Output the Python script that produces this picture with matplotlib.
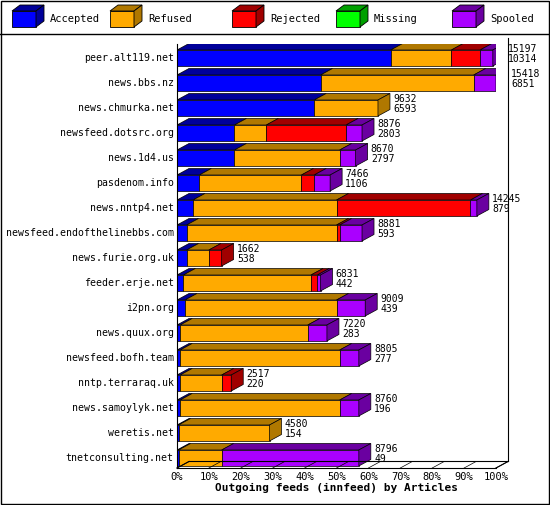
import matplotlib
matplotlib.use("Agg")
import matplotlib.pyplot as plt
from matplotlib.patches import Polygon, Rectangle
import numpy as np

hosts = ['peer.alt119.net', 'news.bbs.nz', 'news.chmurka.net', 'newsfeed.dotsrc.org',
         'news.1d4.us', 'pasdenom.info', 'news.nntp4.net', 'newsfeed.endofthelinebbs.com',
         'news.furie.org.uk', 'feeder.erje.net', 'i2pn.org', 'news.quux.org',
         'newsfeed.bofh.team', 'nntp.terraraq.uk', 'news.samoylyk.net', 'weretis.net',
         'tnetconsulting.net']
offered = [15197, 15418, 9632, 8876, 8670, 7466, 14245, 8881, 1662, 6831, 9009, 7220,
           8805, 2517, 8760, 4580, 8796]
accepted = [10314, 6851, 6593, 2803, 2797, 1106, 879, 593, 538, 442, 439, 283, 277, 220, 196, 154, 49]
# percent of offered
pct_accepted = [67, 45, 43, 18, 18, 7, 5, 3, 3, 2, 2.5, 1, 1, 1, 1, 0.5, 0.5]
pct_refused = [19, 48, 20, 10, 33, 32, 45, 47, 7, 40, 47.5, 40, 50, 13, 50, 28.5, 13.5]
pct_rejected = [9, 0, 0, 25, 0, 4, 42, 1, 4, 2, 0, 0, 0, 3, 0, 0, 0]
pct_missing = [0] * 17
pct_spooled = [4, 7, 0, 5, 5, 5, 2, 7, 0, 1, 9, 6, 6, 0, 6, 0, 43]

series = ['Accepted', 'Refused', 'Rejected', 'Missing', 'Spooled']
colors = ['#0000ff', '#ffaa00', '#ff0000', '#00ff00', '#aa00ff']
dark = ['#00009a', '#b07800', '#a00000', '#00a000', '#6a00a0']
values = [pct_accepted, pct_refused, pct_rejected, pct_missing, pct_spooled]

fig = plt.figure(figsize=(5.5, 5.05), dpi=100)
fig.patches.append(Rectangle((0.002, 0.002), 0.996, 0.996, transform=fig.transFigure,
                             fill=False, edgecolor='black', lw=1))
fig.add_artist(plt.Line2D([0, 1], [1 - 34 / 505, 1 - 34 / 505], color='black', lw=1))

# legend
lx = [12, 110, 232, 336, 452]
for i, name in enumerate(series):
    x0 = lx[i] / 550
    y0 = 1 - 27 / 505
    w, h = 24 / 550, 16 / 505
    ddx, ddy = 8 / 550, 6 / 505
    fig.patches.append(Rectangle((x0, y0), w, h, transform=fig.transFigure,
                                 facecolor=colors[i], edgecolor='black', lw=0.6))
    fig.patches.append(Polygon([(x0, y0 + h), (x0 + ddx, y0 + h + ddy), (x0 + w + ddx, y0 + h + ddy),
                                (x0 + w, y0 + h)], transform=fig.transFigure,
                               facecolor=dark[i], edgecolor='black', lw=0.6))
    fig.patches.append(Polygon([(x0 + w, y0), (x0 + w + ddx, y0 + ddy), (x0 + w + ddx, y0 + h + ddy),
                                (x0 + w, y0 + h)], transform=fig.transFigure,
                               facecolor=dark[i], edgecolor='black', lw=0.6))
    fig.text(x0 + w + ddx + 6 / 550, y0 + h / 2, name, family='DejaVu Sans Mono',
             fontsize=7.5, va='center')

ax = fig.add_axes([177 / 550, 37 / 505, 319 / 550, 424 / 505])
ax.set_xlim(0, 100)
ax.set_ylim(16.4, -0.56)
ax.axis('off')

dx = 12 / 3.19  # depth in percent
dy = 0.26       # depth in rows
bh = 0.64

# back wall / floor
ax.plot([0, dx], [16.4, 16.4 - dy], color='black', lw=0.8, clip_on=False)
ax.plot([dx, 100 + dx], [16.4 - dy, 16.4 - dy], color='black', lw=0.8, clip_on=False)
ax.plot([100 + dx, 100 + dx], [16.4 - dy, -0.56 - dy], color='black', lw=0.8, clip_on=False)
ax.plot([0, 100], [16.4, 16.4], color='black', lw=0.8, clip_on=False)
ax.plot([100, 100 + dx], [16.4, 16.4 - dy], color='black', lw=0.8, clip_on=False)
ax.plot([0, 0], [16.4, -0.56], color='black', lw=0.8, clip_on=False)
for t in range(0, 101, 10):
    ax.plot([t, t + dx], [16.4, 16.4 - dy], color='black', lw=0.5, clip_on=False)
    ax.text(t, 16.55, f'{t}%', ha='center', va='top', family='DejaVu Sans Mono', fontsize=7.5)
ax.text(50, 17.0, 'Outgoing feeds (innfeed) by Articles', ha='center', va='top',
        family='DejaVu Sans Mono', fontsize=8, fontweight='bold')

for r, host in enumerate(hosts):
    top = r - bh / 2
    bot = r + bh / 2
    left = 0
    for s in range(5):
        v = values[s][r]
        if v <= 0:
            continue
        ax.add_patch(Rectangle((left, top), v, bh, facecolor=colors[s], edgecolor='black', lw=0.5))
        ax.add_patch(Polygon([(left, top), (left + dx, top - dy), (left + v + dx, top - dy),
                              (left + v, top)], facecolor=dark[s], edgecolor='black', lw=0.5))
        left += v
        last = s
    ax.add_patch(Polygon([(left, top), (left + dx, top - dy), (left + dx, bot - dy), (left, bot)],
                         facecolor=dark[last], edgecolor='black', lw=0.5))
    ax.text(left + dx + 1, top - dy + 0.02, f'{offered[r]}\n{accepted[r]}', ha='left', va='top',
            family='DejaVu Sans Mono', fontsize=7, linespacing=0.95)
    ax.text(-1.0, r, host, ha='right', va='center', family='DejaVu Sans Mono', fontsize=7.1)

fig.savefig('out.png', dpi=100)
